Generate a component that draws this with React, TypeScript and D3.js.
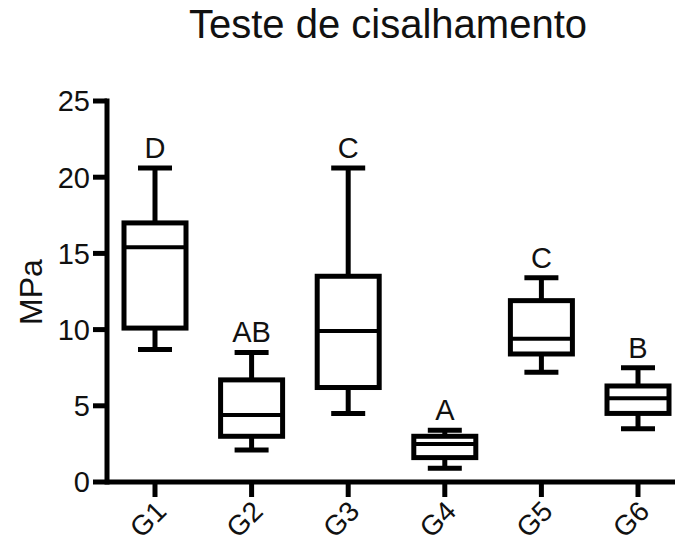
import React from "react";
import * as d3 from "d3";

const groups = ["G1", "G2", "G3", "G4", "G5", "G6"];
const whiskerLow = [8.7, 2.1, 4.5, 0.9, 7.2, 3.5];
const q1 = [10.1, 3.0, 6.2, 1.6, 8.4, 4.5];
const median = [15.4, 4.4, 9.9, 2.5, 9.4, 5.5];
const q3 = [17.0, 6.7, 13.5, 3.0, 11.9, 6.3];
const whiskerHigh = [20.6, 8.5, 20.6, 3.4, 13.4, 7.5];
const letters = ["D", "AB", "C", "A", "C", "B"];
const yTicks = [0, 5, 10, 15, 20, 25];

const W = 675;
const H = 544;
const FONT = "'Liberation Sans', Arial, sans-serif";

export default function App() {
  const y = d3.scaleLinear().domain([0, 25]).range([482, 101]);
  const x = d3.scalePoint<string>().domain(groups).range([155, 638]);
  const axisX = 107;
  const boxW = 62;
  const capW = 34;
  const sw = 5;

  return (
    <svg width={W} height={H} style={{ position: "absolute", left: 0, top: 0, background: "#fff" }}>
      <text x={388} y={38} textAnchor="middle" fontFamily={FONT} fontSize={40} fill="#111">
        Teste de cisalhamento
      </text>
      <text
        transform={`translate(42,292) rotate(-90)`}
        textAnchor="middle"
        fontFamily={FONT}
        fontSize={32}
        fill="#111"
      >
        MPa
      </text>
      {/* y axis */}
      <line x1={axisX} x2={axisX} y1={y(25) - sw / 2} y2={y(0) + sw / 2} stroke="#000" strokeWidth={sw} />
      {yTicks.map((t) => (
        <g key={t}>
          <line x1={axisX - 14} x2={axisX} y1={y(t)} y2={y(t)} stroke="#000" strokeWidth={sw} />
          <text x={90} y={y(t)} dy="0.36em" textAnchor="end" fontFamily={FONT} fontSize={29} fill="#111">
            {t}
          </text>
        </g>
      ))}
      {/* x axis */}
      <line x1={axisX} x2={W} y1={y(0)} y2={y(0)} stroke="#000" strokeWidth={sw} />
      {groups.map((g) => (
        <g key={g}>
          <line x1={x(g)!} x2={x(g)!} y1={y(0)} y2={y(0) + 15} stroke="#000" strokeWidth={sw} />
          <text
            transform={`translate(${x(g)! + 6},${y(0) + 24}) rotate(-45)`}
            textAnchor="end"
            dy="0.35em"
            fontFamily={FONT}
            fontSize={28}
            fill="#111"
          >
            {g}
          </text>
        </g>
      ))}
      {/* boxes */}
      {groups.map((g, i) => {
        const cx = x(g)!;
        return (
          <g key={g} stroke="#000" strokeWidth={sw} fill="none">
            <line x1={cx} x2={cx} y1={y(whiskerHigh[i])} y2={y(q3[i])} />
            <line x1={cx} x2={cx} y1={y(q1[i])} y2={y(whiskerLow[i])} />
            <line x1={cx - capW / 2} x2={cx + capW / 2} y1={y(whiskerHigh[i])} y2={y(whiskerHigh[i])} />
            <line x1={cx - capW / 2} x2={cx + capW / 2} y1={y(whiskerLow[i])} y2={y(whiskerLow[i])} />
            <rect
              x={cx - boxW / 2}
              y={y(q3[i])}
              width={boxW}
              height={y(q1[i]) - y(q3[i])}
              fill="#fff"
              strokeLinejoin="miter"
            />
            <line x1={cx - boxW / 2} x2={cx + boxW / 2} y1={y(median[i])} y2={y(median[i])} strokeWidth={4} />
            <text
              x={cx}
              y={y(whiskerHigh[i]) - 10}
              textAnchor="middle"
              fontFamily={FONT}
              fontSize={29}
              fill="#111"
              stroke="none"
            >
              {letters[i]}
            </text>
          </g>
        );
      })}
    </svg>
  );
}
